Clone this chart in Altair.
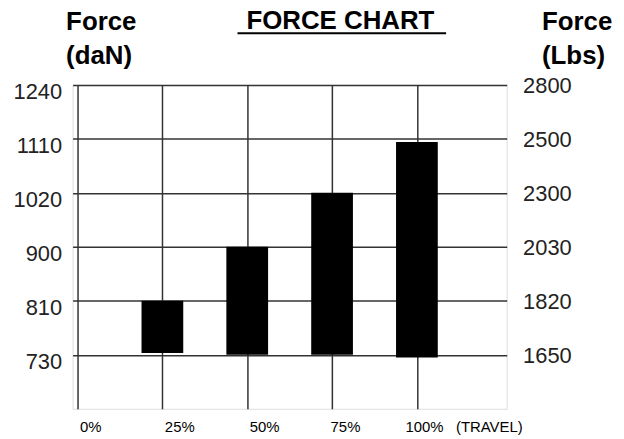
import altair as alt
import pandas as pd

# Data
travel = [25, 50, 75, 100]
force_low = [732.5, 730, 730, 726]
force_high = [810, 900, 1020, 1105]

dan_ticks = [730, 810, 900, 1020, 1110, 1240]
lbs_ticks = [1650, 1820, 2030, 2300, 2500, 2800]
dan_floor = 650   # unlabeled bottom row of the grid
lbs_floor = 1480
x_ticks = [0, 25, 50, 75, 100]
x_max = 125

W, H = 437, 326
FONT = "Liberation Sans"

bars_df = pd.DataFrame({"travel": travel, "low": force_low, "high": force_high})
lbs_df = pd.DataFrame({"lbs": lbs_ticks})

n = len(dan_ticks)
y_range = [H * (n - i) / n for i in range(n + 1)]
dan_domain = [dan_floor] + dan_ticks
lbs_domain = [lbs_floor] + lbs_ticks

x_scale = alt.Scale(domain=[0, x_max], range=[0, W], nice=False, zero=False)

bars = alt.Chart(bars_df).mark_bar(color="black").encode(
    x=alt.X("travel:Q", scale=x_scale,
            axis=alt.Axis(values=x_ticks, grid=True, gridColor="#333", gridWidth=1.5,
                          gridOpacity=1, domain=False, ticks=False, labelFlush=False,
                          labelExpr="datum.value == 100 ? '100%\u00a0\u00a0\u00a0(TRAVEL)' : datum.value + '%'",
                          labelAlign="left", labelBaseline="alphabetic", labelPadding=23,
                          labelFontSize=15, labelFont=FONT, labelColor="#000",
                          labelOffset=alt.ExprRef("datum.value == 100 ? -12 : (datum.value == 75 ? -2 : 2)"),
                          title=None)),
    y=alt.Y("low:Q",
            scale=alt.Scale(domain=dan_domain, range=y_range, nice=False, zero=False),
            axis=alt.Axis(values=dan_ticks, format="d", grid=True, gridColor="#333", gridWidth=1.5,
                          gridOpacity=1, domain=False, ticks=False, labelFlush=False,
                          labelFontSize=22, labelFont=FONT, labelColor="#222",
                          labelPadding=11, labelOffset=7,
                          title=["Force", "(daN)"], titleAngle=0, titleAlign="left",
                          titleBaseline="alphabetic", titleX=-7, titleY=-56,
                          titleFontSize=26, titleFont=FONT, titleFontWeight="bold",
                          titleLineHeight=34, titleColor="#000")),
    y2="high:Q",
    size=alt.value(42),
)

right = alt.Chart(lbs_df).mark_point(opacity=0).encode(
    y=alt.Y("lbs:Q",
            scale=alt.Scale(domain=lbs_domain, range=y_range, nice=False, zero=False),
            axis=alt.Axis(orient="right", values=lbs_ticks, format="d", grid=False, domain=False,
                          ticks=False, labelFlush=False, labelFontSize=22, labelFont=FONT,
                          labelColor="#222", labelPadding=16, labelOffset=1,
                          title=["Force", "(Lbs)"], titleAngle=0, titleAlign="left",
                          titleBaseline="alphabetic", titleX=35, titleY=-56,
                          titleFontSize=26, titleFont=FONT, titleFontWeight="bold",
                          titleLineHeight=34, titleColor="#000")),
)

title = alt.Chart(pd.DataFrame({"t": ["FORCE CHART"]})).mark_text(
    font=FONT, fontSize=26, fontWeight="bold", align="left", baseline="alphabetic", color="#000"
).encode(text="t:N", x=alt.value(175), y=alt.value(-56))

underline = alt.Chart(pd.DataFrame({"t": [0]})).mark_rule(color="#000", strokeWidth=2).encode(
    x=alt.value(166), x2=alt.value(376), y=alt.value(-52)
)

chart = alt.layer(bars, right, title, underline).resolve_scale(y="independent").properties(
    width=W, height=H,
    autosize=alt.AutoSizeParams(type="none"),
    padding={"left": 65, "top": 76, "right": 110, "bottom": 30},
).configure_view(stroke="#333", strokeWidth=1.5).configure(background="white")

chart.save("out.html", embed_options={"renderer": "svg", "actions": False})
